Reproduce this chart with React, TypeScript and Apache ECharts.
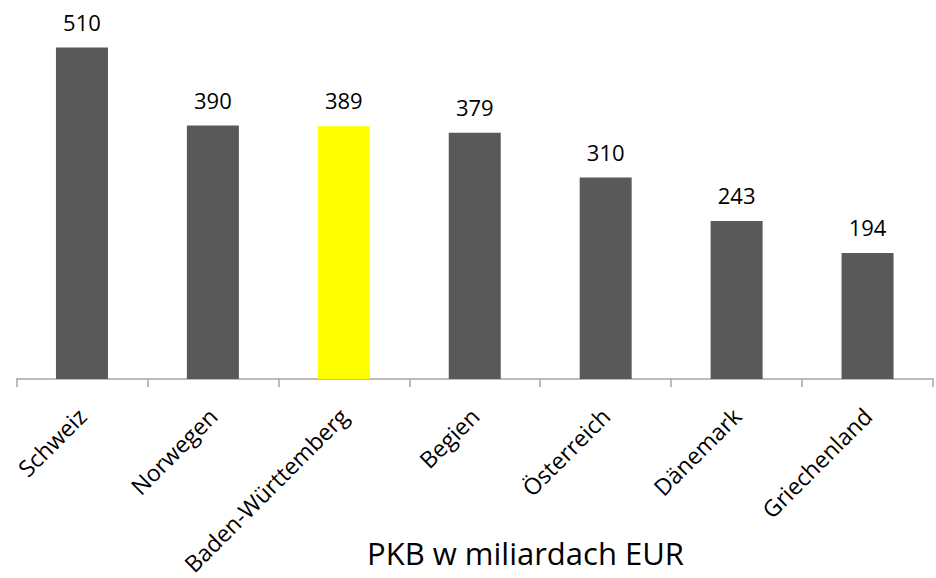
import React, { useEffect, useRef } from "react";
import * as echarts from "echarts";

const categories = ["Schweiz", "Norwegen", "Baden-Württemberg", "Begien", "Österreich", "Dänemark", "Griechenland"];
const values = [510, 390, 389, 379, 310, 243, 194];
const highlighted = ["Baden-Württemberg"];
const titleText = "PKB w miliardach EUR";

const FONT = "'Open Sans', 'Noto Sans', sans-serif";

export default function App() {
  const ref = useRef<HTMLDivElement>(null);
  useEffect(() => {
    document.body.style.margin = "0";
    const chart = echarts.init(ref.current!, null, { renderer: "svg" });
    chart.setOption({
      animation: false,
      backgroundColor: "#ffffff",
      title: {
        text: titleText,
        left: 367,
        top: 537,
        padding: 0,
        textStyle: { fontFamily: FONT, fontSize: 31, fontWeight: "normal", color: "#000000" },
      },
      grid: { left: 16.5, right: 3, top: 21.6, bottom: 197.3, containLabel: false },
      xAxis: {
        type: "category",
        data: categories,
        axisLine: { lineStyle: { color: "#a6a6a6", width: 1.5 } },
        axisTick: { show: true, length: 8, lineStyle: { color: "#a6a6a6", width: 1.5 } },
        axisLabel: {
          interval: 0,
          rotate: 45,
          margin: 33,
          fontFamily: FONT,
          fontSize: 23,
          color: "#000000",
        },
      },
      yAxis: {
        type: "value",
        min: 0,
        max: 550,
        show: false,
        splitLine: { show: false },
      },
      series: [
        {
          type: "bar",
          barWidth: 52,
          data: values.map((v, i) => ({
            value: v,
            itemStyle: { color: highlighted.includes(categories[i]) ? "#ffff00" : "#595959" },
          })),
          label: {
            show: true,
            position: "top",
            distance: 15,
            fontFamily: FONT,
            fontSize: 22,
            color: "#000000",
          },
        },
      ],
    });
    return () => chart.dispose();
  }, []);
  return <div ref={ref} style={{ width: 936, height: 578 }} />;
}
